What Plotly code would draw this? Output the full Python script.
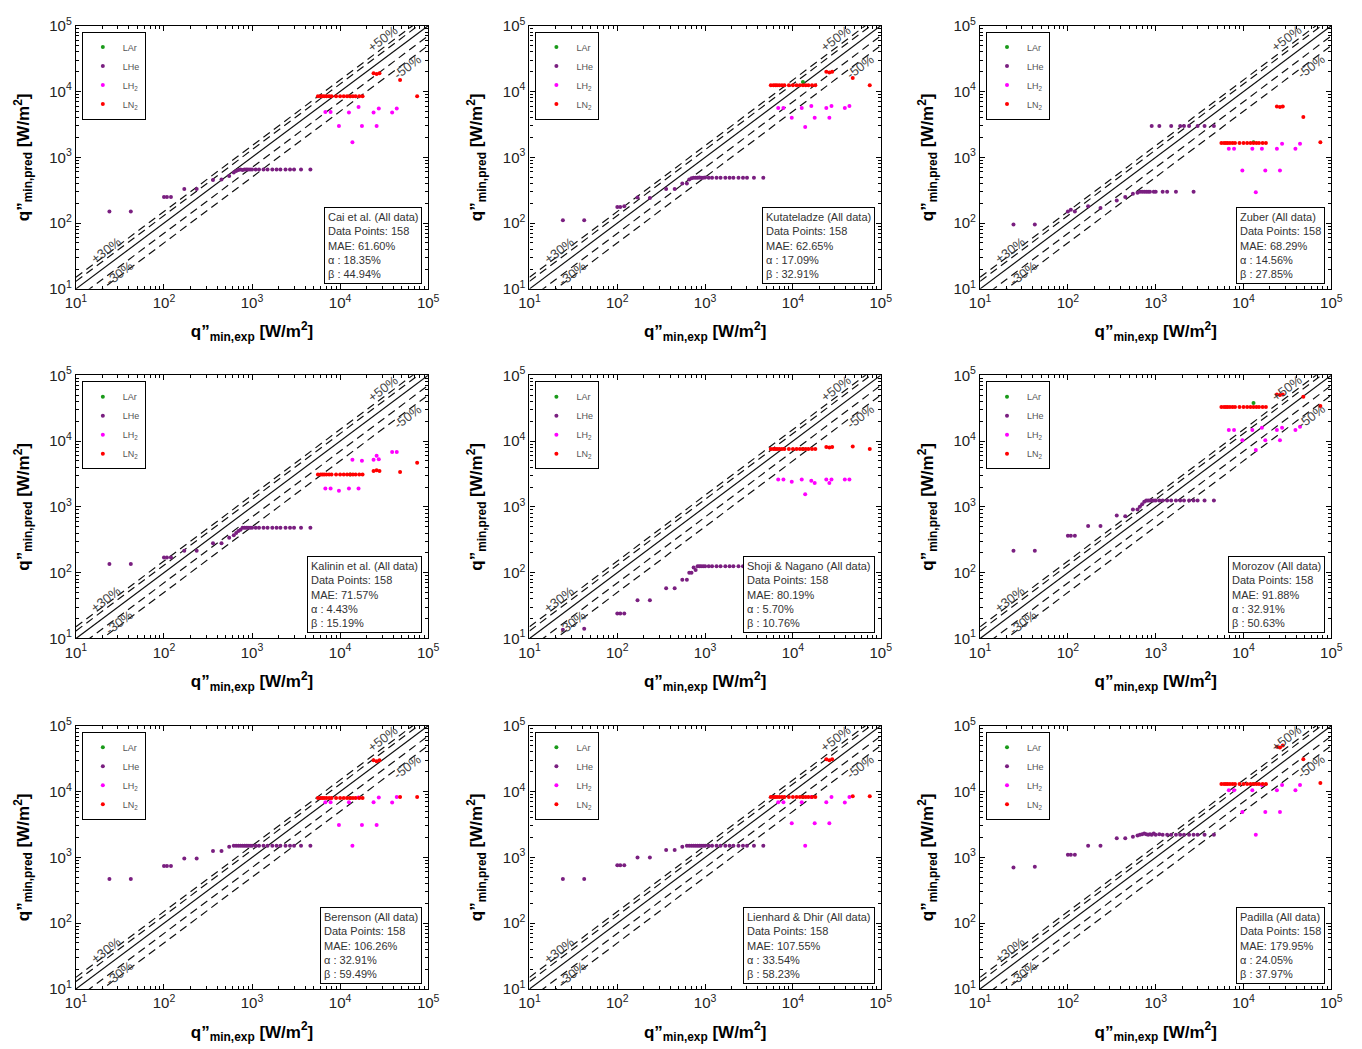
import plotly.graph_objects as go

# ---------------- data ----------------
LHe_exp = [24, 42, 100, 108, 120, 170, 235, 360, 450, 550, 620, 660, 700, 740, 780, 820,
           860, 900, 950, 1000, 1100, 1200, 1350, 1500, 1700, 1900, 2100, 2400, 2700, 3000, 3600, 4600]
LH2_exp = [6800, 7800, 9700, 12600, 13800, 16200, 17700, 24000, 26000, 27500, 39000, 44000]
LN2_exp = [5600, 6000, 6300, 6600, 7000, 7500, 8000, 9000, 10000, 11000, 12000, 13000, 14000,
           15000, 16500, 18000, 24000, 26000, 28000, 48000, 75000]
LAr_exp = [13000]

correlations = ["Cai et al.", "Kutateladze", "Zuber", "Kalinin et al.", "Shoji &amp; Nagano",
                "Morozov", "Berenson", "Lienhard &amp; Dhir", "Padilla"]
data_points = [158] * 9
mae = ["61.60%", "62.65%", "68.29%", "71.57%", "80.19%", "91.88%", "106.26%", "107.55%", "179.95%"]
alpha = ["18.35%", "17.09%", "14.56%", "4.43%", "5.70%", "32.91%", "32.91%", "33.54%", "24.05%"]
beta = ["44.94%", "32.91%", "27.85%", "15.19%", "10.76%", "50.63%", "59.49%", "58.23%", "37.97%"]

LHe_pred = [
    [150, 150, 250, 250, 250, 330, 330, 450, 460, 520, 590, 620, 640, 650, 640, 650, 650, 650, 650, 650,
     650, 650, 650, 650, 650, 650, 650, 650, 650, 650, 650, 650],
    [110, 110, 175, 175, 180, 245, 240, 330, 330, 400, 400, 460, 480, 490, 490, 490, 495, 490, 490, 495,
     490, 490, 490, 490, 490, 490, 490, 490, 490, 490, 490, 490],
    [95, 95, 150, 160, 150, 180, 170, 220, 250, 280, 290, 300, 300, 300, 300, 300, 300, 3000, 300, 300,
     3000, 300, 300, 3000, 300, 3000, 3000, 3000, 300, 3000, 3000, 3000],
    [135, 135, 170, 170, 170, 215, 215, 280, 280, 340, 370, 400, 430, 450, 480, 480, 480, 480, 480, 480,
     480, 480, 480, 480, 480, 480, 480, 480, 480, 480, 480, 480],
    [13.5, 14, 24, 24, 24, 38, 38, 58, 58, 78, 78, 100, 100, 120, 110, 125, 125, 125, 125, 125,
     125, 125, 125, 125, 125, 125, 125, 125, 125, 125, 125, 125],
    [215, 215, 365, 365, 365, 510, 510, 740, 720, 910, 910, 1000, 1100, 1200, 1250, 1250, 1250, 1250, 1250, 1250,
     1250, 1250, 1250, 1250, 1250, 1250, 1250, 1250, 1250, 1250, 1250, 1250],
    [470, 470, 740, 740, 740, 960, 960, 1250, 1250, 1450, 1500, 1500, 1500, 1500, 1500, 1500, 1500, 1500, 1500, 1500,
     1500, 1500, 1500, 1500, 1500, 1500, 1500, 1500, 1500, 1500, 1500, 1500],
    [470, 470, 760, 760, 760, 1000, 1000, 1300, 1300, 1450, 1500, 1500, 1500, 1500, 1500, 1500, 1500, 1500, 1500, 1500,
     1500, 1500, 1500, 1500, 1500, 1500, 1500, 1500, 1500, 1500, 1500, 1500],
    [700, 720, 1100, 1100, 1100, 1500, 1500, 1950, 1950, 2050, 2150, 2200, 2250, 2300, 2250, 2200, 2250, 2200, 2300, 2200,
     2250, 2200, 2200, 2200, 2200, 2200, 2200, 2200, 2200, 2200, 2200, 2200],
]
LH2_pred = [
    [4900, 4900, 3000, 4800, 1700, 5800, 3000, 4800, 3000, 5500, 4800, 5500],
    [5600, 5600, 4000, 5600, 2900, 6000, 4000, 5600, 4000, 6000, 5600, 6000],
    [1350, 1350, 630, 1350, 295, 1350, 630, 1350, 630, 1600, 1350, 1600],
    [1900, 1900, 1750, 1900, 5200, 1900, 5000, 5200, 6000, 5300, 6800, 6800],
    [2600, 2600, 2400, 2600, 1550, 2500, 2300, 2600, 2300, 2600, 2600, 2600],
    [14700, 14700, 10300, 14700, 7300, 16000, 10300, 14700, 10300, 16000, 14700, 16500],
    [6900, 6900, 3100, 6900, 1500, 8100, 3100, 6900, 3100, 8100, 6800, 8300],
    [6900, 6900, 3300, 6900, 1500, 8300, 3300, 6900, 3300, 8300, 6800, 8300],
    [10500, 10500, 4900, 10500, 2200, 12600, 4900, 10500, 4900, 12600, 10500, 12600],
]
LN2_pred = [
    [8500] * 16 + [19000, 18500, 19000, 15000, 8500],
    [12500] * 16 + [20000, 19500, 20000, 16000, 12500],
    [1650] * 16 + [5900, 5800, 5900, 4100, 1700],
    [3100] * 16 + [3500, 3600, 3500, 3400, 4700],
    [7600] * 16 + [8100, 8000, 8100, 8300, 7600],
    [33000] * 16 + [51000, 50000, 51000, 47000, 34000],
    [8000] * 16 + [30000, 29000, 30000, 8300, 8300],
    [8300] * 16 + [31000, 30000, 31000, 8500, 8500],
    [13000] * 16 + [48000, 47000, 50000, 31000, 13500],
]
LAr_pred = [[8500], [14000], [1700], [3100], [7600], [38000], [8000], [8300], [13000]]

fluid_names = ["LAr", "LHe", "LH<sub>2</sub>", "LN<sub>2</sub>"]
fluid_colors = ["#1a9a1a", "#7a1f80", "#ff00ff", "#ff0000"]

tick_vals = [10, 100, 1000, 10000, 100000]
tick_text = ["10<sup>1</sup>", "10<sup>2</sup>", "10<sup>3</sup>", "10<sup>4</sup>", "10<sup>5</sup>"]

guide_x = [10, 100000]
guide_factors = [1.5, 1.3, 1.0, 0.7, 0.5]
guide_dash = ["8px,5px", "8px,5px", "solid", "8px,5px", "8px,5px"]

# ---------------- layout geometry ----------------
W, H = 1362, 1049
col_px = [(66, 424), (527, 884), (985, 1342)]
row_px = [(15, 283), (371, 639), (728, 996)]
FONT = "Liberation Sans, Arial, sans-serif"

fig = go.Figure()
layout = dict(width=W, height=H, margin=dict(l=0, r=0, t=0, b=0),
              paper_bgcolor="white", plot_bgcolor="white",
              font=dict(family=FONT, color="#222"), showlegend=True)
annotations = []

for i in range(9):
    r, c = divmod(i, 3)
    n = i + 1
    xa = "x" if n == 1 else f"x{n}"
    ya = "y" if n == 1 else f"y{n}"
    xkey = "xaxis" if n == 1 else f"xaxis{n}"
    ykey = "yaxis" if n == 1 else f"yaxis{n}"
    lg = "legend" if n == 1 else f"legend{n}"

    for f, d in zip(guide_factors, guide_dash):
        fig.add_trace(go.Scatter(x=guide_x, y=[f * v for v in guide_x], mode="lines",
                                 line=dict(color="#111", width=1.2, dash=d),
                                 xaxis=xa, yaxis=ya, showlegend=False, hoverinfo="skip"))

    series = [(LAr_exp, LAr_pred[i]), (LHe_exp, LHe_pred[i]), (LH2_exp, LH2_pred[i]), (LN2_exp, LN2_pred[i])]
    for (xe, yp), name, col in zip(series, fluid_names, fluid_colors):
        fig.add_trace(go.Scatter(x=xe, y=yp, mode="markers", name=name,
                                 marker=dict(color=col, size=4, line=dict(width=0)),
                                 xaxis=xa, yaxis=ya, legend=lg, showlegend=True))

    x0, x1 = col_px[c]
    y0, y1 = row_px[r]
    xdom = [x0 / W, x1 / W]
    ydom = [1 - y1 / H, 1 - y0 / H]
    ax_common = dict(type="log", range=[1, 5], tickmode="array", tickvals=tick_vals, ticktext=tick_text,
                     showline=True, linecolor="black", linewidth=1.3, mirror="allticks",
                     ticks="inside", ticklen=5, tickcolor="black", tickwidth=1,
                     showgrid=False, zeroline=False,
                     tickfont=dict(family=FONT, size=15, color="#222"),
                     minor=dict(ticks="inside", ticklen=3, tickcolor="black", dtick="D1", showgrid=False))
    layout[xkey] = dict(ax_common, domain=xdom, anchor=ya,
                        title=dict(text="<b>q”<sub>min,exp</sub> [W/m<sup>2</sup>]</b>",
                                   font=dict(family=FONT, size=17, color="black")))
    layout[ykey] = dict(ax_common, domain=ydom, anchor=xa,
                        title=dict(text="<b>q”<sub>min,pred</sub> [W/m<sup>2</sup>]</b>",
                                   font=dict(family=FONT, size=17, color="black")))

    layout[lg] = dict(x=(x0 + 6) / W, y=1 - (y0 + 6) / H, xanchor="left", yanchor="top",
                      bordercolor="black", borderwidth=1, bgcolor="white",
                      font=dict(family=FONT, size=9, color="#555"), tracegroupgap=0)

    txt = (f"{correlations[i]} (All data)<br>Data Points: {data_points[i]}<br>"
           f"MAE: {mae[i]}<br>α : {alpha[i]}<br>β : {beta[i]}")
    annotations.append(dict(text=txt, xref=f"{xa} domain", yref=f"{ya} domain",
                            x=0.983, y=0.02, xanchor="right", yanchor="bottom",
                            showarrow=False, align="left", bgcolor="white",
                            bordercolor="black", borderwidth=1, borderpad=3,
                            font=dict(family=FONT, size=11, color="#333")))
    for t, lx, ly in [("+30%", 1.336, 1.59), ("-30%", 1.49, 1.24), ("+50%", 4.49, 4.80), ("-50%", 4.77, 4.38)]:
        annotations.append(dict(text=t, xref=xa, yref=ya, x=lx, y=ly, showarrow=False,
                                textangle=-37, font=dict(family=FONT, size=13, color="#444")))

layout["annotations"] = annotations
fig.update_layout(**layout)
fig.write_html("out.html")
